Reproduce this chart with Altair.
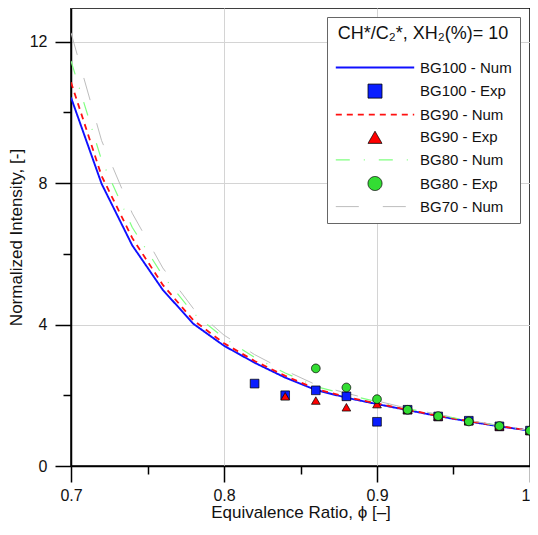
import altair as alt
import pandas as pd

# ---- data ----
phi_num = [0.70, 0.72, 0.74, 0.76, 0.78, 0.80, 0.82, 0.84, 0.86, 0.88, 0.90, 0.92, 0.94, 0.96, 0.98, 1.00]
bg100_num = [10.42, 7.98, 6.24, 4.98, 4.02, 3.40, 2.92, 2.50, 2.15, 1.93, 1.75, 1.58, 1.41, 1.26, 1.12, 1.00]
bg90_num = [10.85, 8.20, 6.45, 5.12, 4.12, 3.47, 2.97, 2.55, 2.18, 1.95, 1.77, 1.59, 1.42, 1.27, 1.13, 1.00]
bg80_num = [11.45, 8.65, 6.75, 5.38, 4.32, 3.62, 3.07, 2.63, 2.25, 2.02, 1.82, 1.62, 1.45, 1.28, 1.14, 1.00]
bg70_num = [12.25, 9.20, 7.15, 5.60, 4.45, 3.70, 3.15, 2.70, 2.30, 2.06, 1.84, 1.63, 1.46, 1.29, 1.14, 1.00]

bg100_exp_phi = [0.82, 0.84, 0.86, 0.88, 0.90, 0.92, 0.94, 0.96, 0.98, 1.00]
bg100_exp = [2.33, 2.00, 2.14, 1.97, 1.25, 1.59, 1.40, 1.28, 1.12, 1.00]
bg90_exp_phi = [0.84, 0.86, 0.88, 0.90, 0.92, 0.94, 0.96, 0.98, 1.00]
bg90_exp = [1.97, 1.85, 1.66, 1.75, 1.59, 1.40, 1.27, 1.12, 1.00]
bg80_exp_phi = [0.86, 0.88, 0.90, 0.92, 0.94, 0.96, 0.98, 1.00]
bg80_exp = [2.76, 2.22, 1.89, 1.59, 1.41, 1.26, 1.13, 1.00]

series = ["BG100 - Num", "BG100 - Exp", "BG90 - Num", "BG90 - Exp",
          "BG80 - Num", "BG80 - Exp", "BG70 - Num"]
legend_title = "CH*/C\u2082*, XH\u2082(%)= 10"

# ---- tables ----
num_rows = []
for name, vals in [("BG100 - Num", bg100_num), ("BG90 - Num", bg90_num),
                   ("BG80 - Num", bg80_num), ("BG70 - Num", bg70_num)]:
    for p, v in zip(phi_num, vals):
        num_rows.append({"phi": p, "val": v, "series": name})
num_df = pd.DataFrame(num_rows)

exp_rows = []
for name, ph, vals in [("BG100 - Exp", bg100_exp_phi, bg100_exp),
                       ("BG90 - Exp", bg90_exp_phi, bg90_exp),
                       ("BG80 - Exp", bg80_exp_phi, bg80_exp)]:
    for p, v in zip(ph, vals):
        exp_rows.append({"phi": p, "val": v, "series": name})
exp_df = pd.DataFrame(exp_rows)

# ---- styling scales ----
line_path = "M-5.6,0H5.6"
stroke_scale = alt.Scale(domain=series, range=["#1010ff", "#000000", "#ff1010", "#000000",
                                               "#80ff80", "#000000", "#bdbdbd"])
fill_scale = alt.Scale(domain=series, range=["transparent", "#0a1eff", "transparent", "#ff0000",
                                             "transparent", "#33dd33", "transparent"])
dash_scale = alt.Scale(domain=series, range=[[1, 0], [1, 0], [6, 5], [1, 0],
                                             [14, 14, 1, 14], [1, 0], [23, 24]])
shape_scale = alt.Scale(domain=series, range=[line_path, "square", line_path, "triangle-up",
                                              line_path, "circle", line_path])
width_scale = alt.Scale(type="ordinal", domain=series, range=[1.9, 0.8, 1.8, 0.8, 1.2, 0.8, 1.0])

legend = alt.Legend(
    title=legend_title, orient="none", legendX=256, legendY=9,
    strokeColor="#666666", fillColor="white", padding=8,
    titleFontSize=18, titleFont="Liberation Sans", titleFontWeight="normal",
    titleColor="#111", titleAnchor="middle", titlePadding=16.5,
    labelFontSize=15, labelFont="Liberation Sans", labelColor="#111",
    symbolSize=196, symbolOffset=32, labelOffset=37, rowPadding=6.1,
)

x_enc = alt.X("phi:Q", scale=alt.Scale(domain=[0.7, 1.0], nice=False, zero=False),
              axis=alt.Axis(
                  title="Equivalence Ratio, \u03d5 [\u2013]",
                  values=[0.7, 0.75, 0.8, 0.85, 0.9, 0.95, 1.0],
                  labelExpr="round(datum.value*100) % 10 == 0 ? (datum.value == 1 ? '1' : format(datum.value, '.1f')) : ''",
                  labelAlign={"condition": {"test": "datum.value == 1", "value": "right"}, "value": "center"},
                  labelBaseline="top",
                  tickSize={"condition": {"test": "round(datum.value*100) % 10 != 0", "value": 8}, "value": 16},
                  gridOpacity={"condition": {"test": "round(datum.value*100) % 10 != 0", "value": 0}, "value": 1},
                  labelPadding=5, titlePadding=1,
              ))
y_enc = alt.Y("val:Q", scale=alt.Scale(domain=[0, 12.95], nice=False),
              axis=alt.Axis(
                  title="Normalized Intensity, [-]",
                  values=[0, 2, 4, 6, 8, 10, 12],
                  labelExpr="datum.value % 4 == 0 ? datum.label : ''",
                  tickSize={"condition": {"test": "datum.value % 4 != 0", "value": 8}, "value": 16},
                  gridOpacity={"condition": {"test": "datum.value % 4 != 0", "value": 0}, "value": 1},
                  labelPadding=8, titlePadding=4,
              ))

lines = alt.Chart(num_df).mark_line(clip=True).encode(
    x=x_enc, y=y_enc,
    stroke=alt.Stroke("series:N", scale=stroke_scale, legend=legend),
    strokeDash=alt.StrokeDash("series:N", scale=dash_scale, legend=legend),
    strokeWidth=alt.StrokeWidth("series:N", scale=width_scale, legend=legend),
    detail="series:N",
)

points = alt.Chart(exp_df).mark_point(filled=True, size=75, opacity=1).encode(
    x=x_enc, y=y_enc,
    fill=alt.Fill("series:N", scale=fill_scale, legend=legend),
    stroke=alt.Stroke("series:N", scale=stroke_scale, legend=legend),
    shape=alt.Shape("series:N", scale=shape_scale, legend=legend),
    strokeDash=alt.StrokeDash("series:N", scale=dash_scale, legend=legend),
    strokeWidth=alt.StrokeWidth("series:N", scale=width_scale, legend=legend),
)

chart = alt.layer(lines, points).properties(
    width=459, height=458,
    autosize=alt.AutoSizeParams(type="none"),
    padding={"left": 63, "top": 0, "right": 0, "bottom": 55},
).configure_view(
    stroke="black", strokeWidth=1.5,
).configure_axis(
    labelFont="Liberation Sans", titleFont="Liberation Sans",
    labelFontSize=16, titleFontSize=17, titleFontWeight="normal",
    labelColor="#111", titleColor="#111",
    domainColor="black", domainWidth=1.5,
    tickColor="black", tickWidth=1.5,
    gridColor="#d4d4d4", gridWidth=1,
)

chart.save("out.html", embed_options={"renderer": "svg", "actions": False})
